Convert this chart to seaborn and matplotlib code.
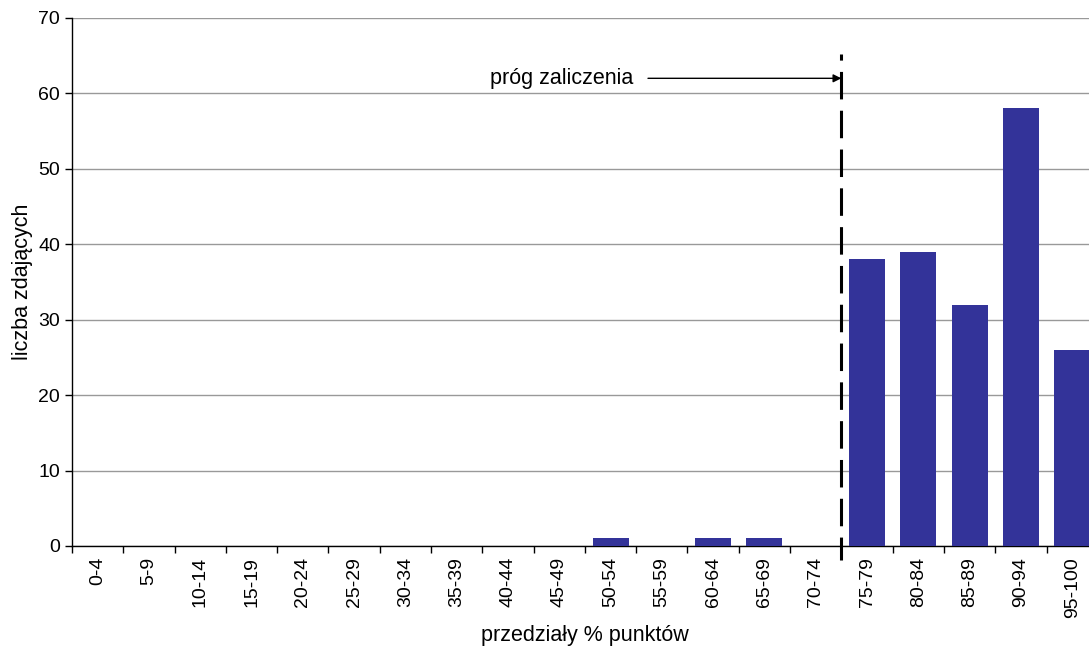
import numpy as np
import pandas as pd
import seaborn as sns
import matplotlib.pyplot as plt
from matplotlib.ticker import FixedLocator

przedzialy = ['0-4', '5-9', '10-14', '15-19', '20-24', '25-29', '30-34', '35-39',
              '40-44', '45-49', '50-54', '55-59', '60-64', '65-69', '70-74',
              '75-79', '80-84', '85-89', '90-94', '95-100']
liczba = [0, 0, 0, 0, 0, 0, 0, 0, 0, 0, 1, 0, 1, 1, 0, 38, 39, 32, 58, 26]

df = pd.DataFrame({'przedzial': przedzialy, 'liczba': liczba})

sns.set_style('white')
plt.rcParams['font.family'] = ['Liberation Sans', 'DejaVu Sans']
plt.rcParams['text.color'] = 'black'
plt.rcParams['axes.labelcolor'] = 'black'
plt.rcParams['xtick.color'] = 'black'
plt.rcParams['ytick.color'] = 'black'

fig = plt.figure(figsize=(10.89, 6.51), dpi=100)
ax = fig.add_axes([0.0661, 0.1613, 0.942, 0.8111])

sns.barplot(data=df, x='przedzial', y='liczba', color='#333399', saturation=1,
            width=0.7, linewidth=0, edgecolor='none', ax=ax, zorder=3)

ax.set_xlim(-0.5, len(przedzialy) - 0.5)
ax.set_ylim(0, 70)
ax.set_yticks(range(0, 71, 10))
ax.grid(axis='y', color='#999999', linewidth=1, zorder=0)
ax.set_axisbelow(True)

for s in ['top', 'right']:
    ax.spines[s].set_visible(False)
for s in ['left', 'bottom']:
    ax.spines[s].set_color('black')
    ax.spines[s].set_linewidth(1)

ax.tick_params(axis='x', which='major', length=0, labelsize=14, rotation=90, pad=8)
ax.xaxis.set_minor_locator(FixedLocator(np.arange(-0.5, len(przedzialy), 1)))
ax.tick_params(axis='x', which='minor', length=5, width=1, color='black', direction='out', bottom=True)
ax.tick_params(axis='y', length=5, width=1, color='black', direction='out', left=True, labelsize=14)

ax.set_xlabel('przedziały % punktów', fontsize=15.5)
ax.xaxis.set_label_coords(0.5, -0.1496)
ax.set_ylabel('liczba zdających', fontsize=15.5, labelpad=4)

# próg zaliczenia
ax.plot([14.5, 14.5], [65.2, -1.9], color='black', linewidth=2.2,
        linestyle=(7, (9, 3.7)), clip_on=False, zorder=4)
ax.annotate('', xy=(14.5, 62), xytext=(10.73, 62),
            arrowprops=dict(arrowstyle='-|>', color='black', lw=1, mutation_scale=12,
                            shrinkA=0, shrinkB=0), zorder=5)
ax.text(10.44, 62, 'próg zaliczenia', ha='right', va='center', fontsize=15.5)

fig.savefig('out.png', dpi=100)
